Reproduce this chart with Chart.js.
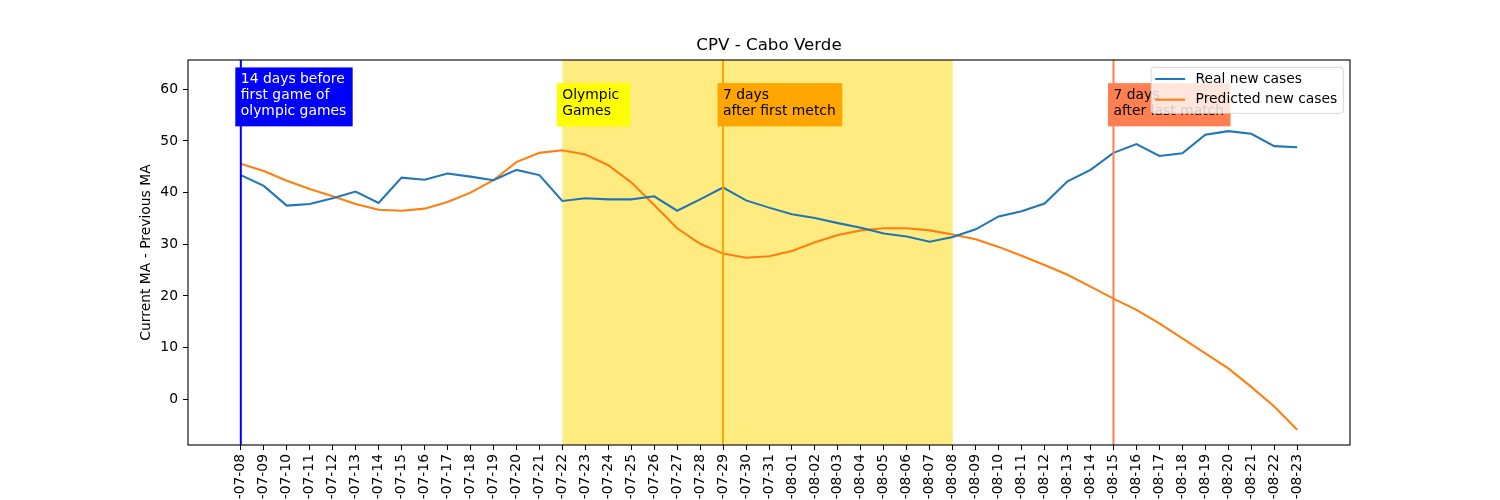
<!DOCTYPE html>
<html>
<head>
<meta charset="utf-8">
<script src="https://cdn.jsdelivr.net/npm/chart.js@4"></script>
<style>
  html, body { margin: 0; padding: 0; background: #fff; overflow: hidden; width: 1500px; height: 500px; }
  canvas { display: block; }
</style>
</head>
<body>
<canvas id="chart" width="1500" height="560"></canvas>
<script>
// data
const dates = [
  '2021-07-08', '2021-07-09', '2021-07-10', '2021-07-11', '2021-07-12', '2021-07-13', '2021-07-14', '2021-07-15',
  '2021-07-16', '2021-07-17', '2021-07-18', '2021-07-19', '2021-07-20', '2021-07-21', '2021-07-22', '2021-07-23',
  '2021-07-24', '2021-07-25', '2021-07-26', '2021-07-27', '2021-07-28', '2021-07-29', '2021-07-30', '2021-07-31',
  '2021-08-01', '2021-08-02', '2021-08-03', '2021-08-04', '2021-08-05', '2021-08-06', '2021-08-07', '2021-08-08',
  '2021-08-09', '2021-08-10', '2021-08-11', '2021-08-12', '2021-08-13', '2021-08-14', '2021-08-15', '2021-08-16',
  '2021-08-17', '2021-08-18', '2021-08-19', '2021-08-20', '2021-08-21', '2021-08-22', '2021-08-23'
];
const realCases = [
  43.4, 41.3, 37.5, 37.8, 38.9, 40.2, 38.0, 42.9, 42.5, 43.7, 43.1, 42.4, 44.4, 43.4, 38.4, 38.9,
  38.7, 38.7, 39.3, 36.5, 38.7, 41.0, 38.5, 37.1, 35.8, 35.1, 34.1, 33.2, 32.1, 31.5, 30.5, 31.4,
  32.9, 35.4, 36.4, 37.9, 42.2, 44.4, 47.7, 49.4, 47.1, 47.6, 51.2, 51.9, 51.4, 49.0, 48.8
];
const predictedCases = [
  45.6, 44.2, 42.3, 40.7, 39.3, 37.8, 36.7, 36.5, 36.9, 38.2, 40.0, 42.4, 45.9, 47.7, 48.2, 47.4,
  45.3, 42.0, 37.6, 33.1, 30.1, 28.2, 27.4, 27.7, 28.7, 30.4, 31.8, 32.7, 33.1, 33.1, 32.7, 31.9,
  31.0, 29.5, 27.8, 26.0, 24.1, 21.8, 19.5, 17.3, 14.7, 11.8, 8.9, 6.0, 2.4, -1.4, -5.9
];
const yTicks = [0, 10, 20, 30, 40, 50, 60];

// olympic period and marker lines
const olympicSpan = ['2021-07-22', '2021-08-08'];
const markerDates = ['2021-07-08', '2021-07-29', '2021-08-15'];
const noteDates = ['2021-07-08', '2021-07-22', '2021-07-29', '2021-08-15'];
const noteTexts = [
  ['14 days before', 'first game of', 'olympic games'],
  ['Olympic ', 'Games'],
  ['7 days', 'after first metch'],
  ['7 days', 'after last match']
];
const noteLevel = 55;

const markerColors = ['#0000ff', '#ffa500', '#ff7f50'];
const noteFills = ['#0000ff', '#ffff00', '#ffa500', '#ff7f50'];
const noteInk = ['#ffffff', '#000000', '#000000', '#000000'];
const FONT = '13.89px "DejaVu Sans"';

Chart.defaults.font.family = 'DejaVu Sans';
Chart.defaults.color = '#000';

const overlay = {
  id: 'overlay',
  beforeDatasetsDraw(chart) {
    const { ctx, chartArea: a, scales: { x } } = chart;
    ctx.save();
    const x0 = x.getPixelForValue(dates.indexOf(olympicSpan[0]));
    const x1 = x.getPixelForValue(dates.indexOf(olympicSpan[1]));
    ctx.fillStyle = 'rgba(255,215,0,0.5)';
    ctx.fillRect(x0, a.top, x1 - x0, a.height);
    ctx.restore();
  },
  afterDatasetsDraw(chart) {
    const { ctx, chartArea: a, scales: { x, y } } = chart;
    ctx.save();
    // vertical lines
    ctx.lineWidth = 2;
    markerDates.forEach((d, k) => {
      const px = x.getPixelForValue(dates.indexOf(d));
      ctx.strokeStyle = markerColors[k];
      ctx.beginPath();
      ctx.moveTo(px, a.top);
      ctx.lineTo(px, a.bottom);
      ctx.stroke();
    });
    // text boxes
    ctx.font = FONT;
    ctx.textAlign = 'left';
    ctx.textBaseline = 'middle';
    const lh = 15.7;
    noteDates.forEach((d, k) => {
      const px = x.getPixelForValue(dates.indexOf(d));
      const base = y.getPixelForValue(noteLevel);
      const lines = noteTexts[k];
      const lastC = base - 4;
      const firstC = lastC - (lines.length - 1) * lh;
      const w = Math.max(...lines.map(t => ctx.measureText(t).width));
      const top = firstC - 12.3;
      const bottom = base + 11.2;
      ctx.fillStyle = noteFills[k];
      ctx.fillRect(px - 5.5, top, w + 12, bottom - top);
      ctx.fillStyle = noteInk[k];
      lines.forEach((t, i) => ctx.fillText(t, px, firstC + i * lh));
    });
    ctx.restore();
  },
  afterDraw(chart) {
    const { ctx, chartArea: a } = chart;
    ctx.save();
    // frame
    ctx.strokeStyle = '#000';
    ctx.lineWidth = 1.1;
    ctx.strokeRect(a.left, a.top, a.right - a.left, a.bottom - a.top);
    // legend
    ctx.font = FONT;
    const items = chart.data.datasets.map(ds => [ds.label, ds.borderColor]);
    const tw = Math.max(...items.map(it => ctx.measureText(it[0]).width));
    const w = 4 + 30 + 10.4 + tw + 6;
    const h = 46;
    const lx = a.right - 6.7 - w;
    const ly = a.top + 7.3;
    ctx.beginPath();
    ctx.roundRect(lx, ly, w, h, 3);
    ctx.fillStyle = 'rgba(255,255,255,0.8)';
    ctx.fill();
    ctx.strokeStyle = 'rgba(204,204,204,0.8)';
    ctx.lineWidth = 1;
    ctx.stroke();
    ctx.textAlign = 'left';
    ctx.textBaseline = 'middle';
    items.forEach((it, i) => {
      const ry = ly + 11.7 + i * 20.7;
      ctx.strokeStyle = it[1];
      ctx.lineWidth = 2.08;
      ctx.beginPath();
      ctx.moveTo(lx + 4, ry);
      ctx.lineTo(lx + 34, ry);
      ctx.stroke();
      ctx.fillStyle = '#000';
      ctx.fillText(it[0], lx + 44.4, ry);
    });
    ctx.restore();
  }
};

new Chart(document.getElementById('chart'), {
  type: 'line',
  data: {
    datasets: [
      {
        label: 'Real new cases',
        data: realCases.map((v, i) => ({ x: i, y: v })),
        borderColor: '#1f77b4',
        borderWidth: 2.08,
        pointRadius: 0,
        tension: 0,
        fill: false
      },
      {
        label: 'Predicted new cases',
        data: predictedCases.map((v, i) => ({ x: i, y: v })),
        borderColor: '#ff7f0e',
        borderWidth: 2.08,
        pointRadius: 0,
        tension: 0,
        fill: false
      }
    ]
  },
  options: {
    responsive: false,
    animation: false,
    events: [],
    layout: { padding: { left: 135, right: 150, top: 0, bottom: 0 } },
    plugins: {
      legend: { display: false },
      tooltip: { enabled: false },
      title: {
        display: true,
        text: 'CPV - Cabo Verde',
        fullSize: false,
        color: '#000',
        font: { size: 16.67, weight: 'normal' },
        padding: { top: 36, bottom: 4 }
      }
    },
    scales: {
      x: {
        type: 'linear',
        min: -2.3,
        max: 48.3,
        afterBuildTicks: s => { s.ticks = dates.map((d, i) => ({ value: i })); },
        afterFit: s => { s.height = 115; },
        ticks: {
          autoSkip: false,
          minRotation: 90,
          maxRotation: 90,
          color: '#000',
          font: { size: 13.89 },
          padding: 4,
          callback: v => dates[v]
        },
        grid: { drawOnChartArea: false, drawTicks: true, tickLength: 5, color: '#000' },
        border: { display: false }
      },
      y: {
        min: -8.84,
        max: 65.67,
        afterBuildTicks: s => { s.ticks = yTicks.map(v => ({ value: v })); },
        afterFit: s => { s.width = 53; },
        ticks: { color: '#000', font: { size: 13.89 }, padding: 5 },
        grid: { drawOnChartArea: false, drawTicks: true, tickLength: 5, color: '#000' },
        border: { display: false },
        title: {
          display: true,
          text: 'Current MA - Previous MA',
          color: '#000',
          font: { size: 13.89 },
          padding: { top: 3.4, bottom: 0 }
        }
      }
    }
  },
  plugins: [overlay]
});
</script>
</body>
</html>
